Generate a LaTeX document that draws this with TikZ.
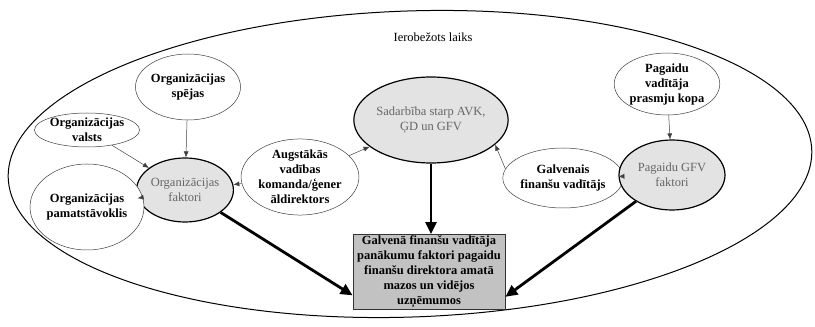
\documentclass[tikz,border=0pt]{standalone}
\usepackage{fontspec}
\setmainfont{Liberation Serif}
\usetikzlibrary{positioning,shapes.geometric,arrows.meta}

\newcommand{\mainline}{2.8pt}
\newcommand{\sideline}{0.5pt}
\newcommand{\txtsize}{\fontsize{12.5}{15}\selectfont}
\tikzstyle{cause}=[fill=white,text=black,draw=black!75,shape=ellipse,
                   line width=\sideline,inner sep=0pt,align=center,
                   font=\txtsize\bfseries]
\tikzstyle{factor}=[fill=black!11,text=black!60,draw=black,shape=ellipse,
                    line width=1.2pt,inner sep=0pt,align=center,font=\txtsize]
\tikzstyle{result}=[fill=black!24,text=black,draw=black!80,shape=rectangle,
                    line width=0.8pt,inner sep=0pt,align=center,
                    minimum width=152pt,minimum height=75pt,font=\txtsize\bfseries]
\tikzstyle{link}=[-{Latex[length=6pt,width=5pt]},line width=\sideline,draw=black!75]
\tikzstyle{push}=[-{Triangle[length=12pt,width=11pt]},line width=\mainline]

\begin{document}
\begin{tikzpicture}[x=1pt,y=1pt]
\useasboundingbox (0,0) rectangle (815,327);

% frame: limited time
\draw [line width=1pt] (410,163) ellipse [x radius=402, y radius=153, rotate=2];
\node [font=\txtsize] (title) at (433,290) {Ierobežots laiks};

% left group
\node [factor, minimum width=94pt, minimum height=64pt] (orgfakt) at (185,137) {Organizācijas\\faktori};
\node [cause, minimum width=90pt, minimum height=66pt] (spejas) at (188,240) {Organizācijas\\spējas};
\node [cause, minimum width=100pt, minimum height=34pt] (valsts) at (87,197) {Organizācijas\\valsts};
\node [cause, minimum width=90pt, minimum height=86pt] (pamat) at (87,120) {Organizācijas\\pamatstāvoklis};
\node [cause, minimum width=95pt, minimum height=66pt] (augst) at (300,150) {Augstākās\\vadības\\komanda/ģener\\āldirektors};

% middle
\node [factor, minimum width=118pt, minimum height=86pt] (sadarb) at (431,207) {Sadarbība starp AVK,\\ĢD un GFV};
\node [result] (box) at (429,55) {Galvenā finanšu vadītāja\\panākumu faktori pagaidu\\finanšu direktora amatā\\mazos un vidējos\\uzņēmumos};

% right group
\node [cause, minimum width=80pt, minimum height=60pt] (galv) at (563,149) {Galvenais\\finanšu vadītājs};
\node [factor, minimum width=106pt, minimum height=70pt] (pgfak) at (672,152) {Pagaidu GFV\\faktori};
\node [cause, minimum width=104pt, minimum height=62pt] (prasmes) at (667,243) {Pagaidu\\vadītāja\\prasmju kopa};

\draw [link] (spejas) -- (orgfakt);
\draw [link] (valsts) -- (orgfakt);
\draw [link] (pamat) -- (orgfakt);
\draw [link] (augst) -- (orgfakt);
\draw [link] (augst) -- (sadarb);
\draw [link] (galv.171) -- (sadarb.-21);
\draw [link] (galv) -- (pgfak);
\draw [link] (prasmes) -- (pgfak);

\draw [push] (orgfakt) -- (box.197.5);
\draw [push] (sadarb) -- (box.north -| sadarb);
\draw [push] (pgfak) -- (box.342.5);
\end{tikzpicture}
\end{document}
